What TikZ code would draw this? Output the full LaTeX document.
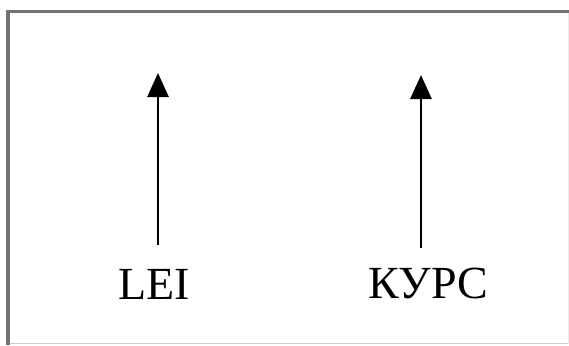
\documentclass[tikz,border=0pt]{standalone}
\usepackage{fontspec}
\setmainfont{Liberation Serif}
\usetikzlibrary{arrows.meta}
\begin{document}
\begin{tikzpicture}[x=0.5pt,y=-0.5pt,
  frameDark/.style={draw=black!55,line width=1.5pt},
  frameLight/.style={draw=black!20,line width=0.7pt},
  frameFaint/.style={draw=black!8,line width=0.5pt},
  lbl/.style={anchor=base,inner sep=0pt,font=\fontsize{23}{27}\selectfont},
  arr/.style={draw=black,line width=1.4pt,-{Triangle[width=10.5pt,length=12pt]}}]
\useasboundingbox (0,0) rectangle (569,345);
\fill[white] (0,0) rectangle (569,345);
% frame
\draw[frameLight] (8,343.5) -- (569,343.5);
\draw[frameFaint] (568,11) -- (568,343.5);
\draw[frameDark] (8,345) -- (8,11) -- (569,11);
% labels
\node[lbl] (lei) at (154.5,299) {LEI};
\node[lbl] (kurs) at (428.5,298) {КУРС};
% arrow ends
\coordinate (t1) at (158,245);
\coordinate (h1) at (158,73);
\coordinate (t2) at (421,248);
\coordinate (h2) at (421,75);
\draw[arr] (t1) -- (h1);
\draw[arr] (t2) -- (h2);
\end{tikzpicture}
\end{document}
